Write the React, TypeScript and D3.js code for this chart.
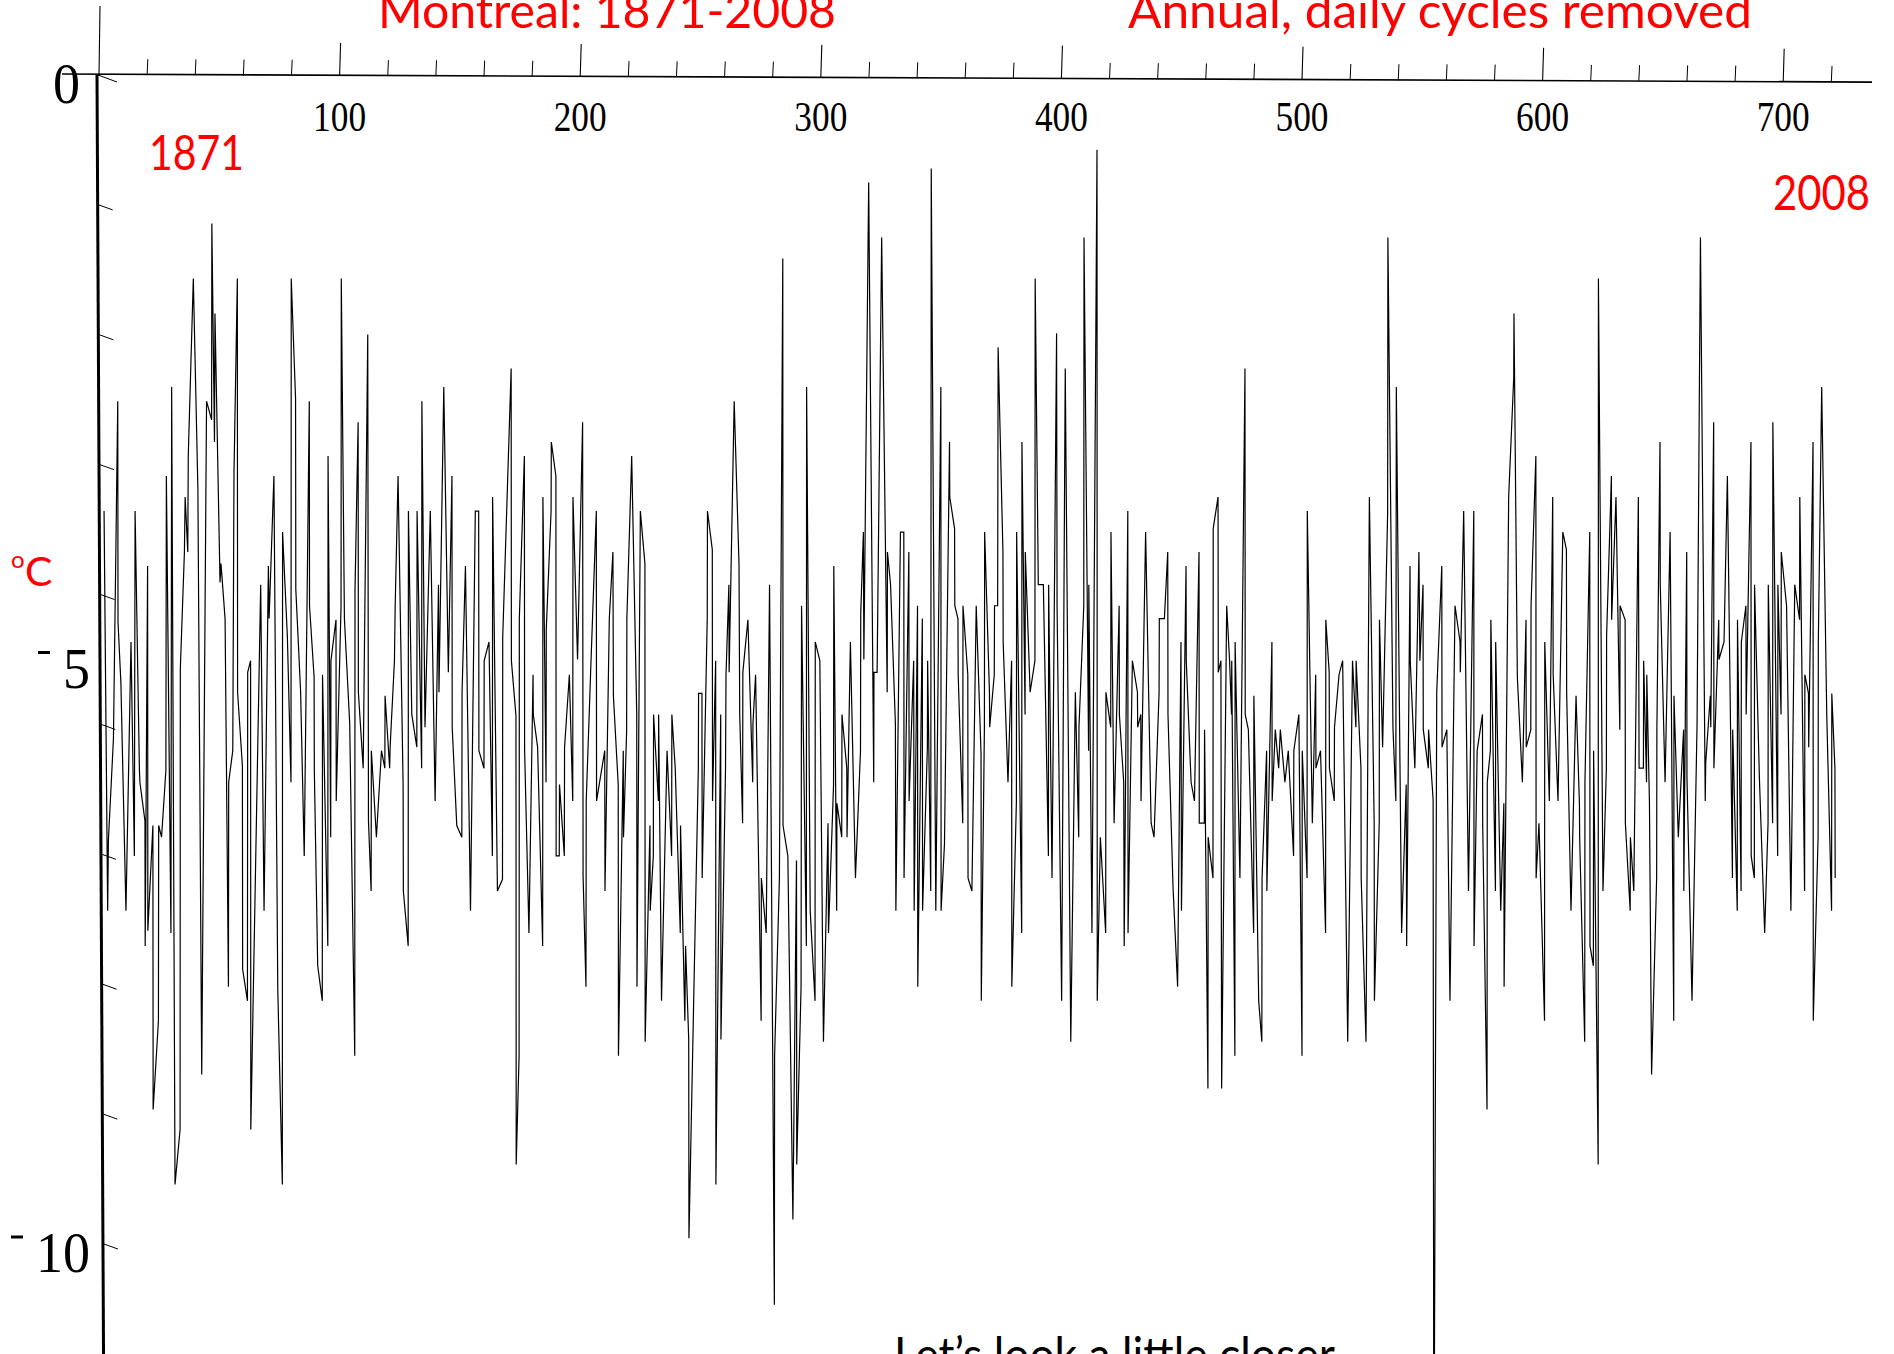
import React from 'react'
import * as d3 from 'd3'

const W = 1894
const H = 1354

// [sample index, temperature in °C]
const readings: [number, number][] = [
  [2.1,-3.73],[3.6,-7.15],[3.9,-6.55],[6.0,-5.68],[7.8,-2.79],[7.9,-4.68],[9.1,-5.2],[11.2,-7.15],[13.3,-4.85],[14.7,-6.68],
  [15.0,-3.73],[16.8,-5.95],[17.0,-6.05],[19.1,-6.38],[19.2,-7.45],[20.2,-4.2],[20.3,-7.32],[22.4,-6.42],[22.5,-8.85],[24.7,-8.09],
  [24.8,-6.42],[26.0,-6.52],[27.8,-5.95],[28.0,-3.43],[29.9,-7.34],[30.2,-2.67],[31.6,-9.49],[33.7,-9.02],[33.8,-5.08],[35.5,-4.08],
  [35.8,-3.61],[36.9,-4.08],[37.1,-3.26],[39.2,-1.74],[41.1,-3.54],[42.7,-8.55],[44.7,-2.79],[46.8,-2.95],[46.9,-1.27],[48.0,-3.14],
  [48.2,-2.04],[50.3,-4.34],[50.7,-4.18],[52.4,-4.65],[53.8,-7.8],[53.9,-6.05],[55.6,-5.78],[56.1,-3.41],[57.5,-1.74],[57.6,-5.28],
  [59.6,-5.91],[59.7,-7.65],[61.7,-7.92],[61.8,-5.11],[63.0,-5.01],[63.1,-9.02],[67.2,-4.36],[68.6,-7.15],[70.4,-4.2],[70.7,-4.65],
  [72.7,-3.43],[74.3,-7.82],[76.2,-9.49],[76.3,-3.91],[78.3,-4.81],[79.8,-6.05],[79.9,-1.74],[81.7,-2.77],[81.8,-4.4],[83.8,-5.28],
  [85.3,-6.68],[87.4,-2.79],[87.5,-4.54],[89.4,-5.15],[89.5,-5.95],[90.9,-7.62],
  [92.8,-7.92],[92.9,-5.13],[95.1,-7.45],[95.2,-3.26],[96.3,-6.52],[96.4,-5.01],[98.5,-4.66],[98.6,-6.21],[100.6,-4.54],[100.7,-1.74],
  [102.0,-4.65],[104.2,-5.55],[106.3,-8.39],[106.4,-4.41],[107.7,-2.97],[107.8,-5.28],[109.8,-5.93],[111.7,-2.22],[112.0,-6.38],[113.1,-6.98],
  [113.2,-5.78],[115.3,-6.52],[117.4,-5.78],[118.8,-5.93],[118.9,-5.31],[120.8,-5.93],[121.0,-5.75],[122.8,-5.01],[123.1,-4.54],[124.3,-3.43],
  [126.4,-6.08],[126.5,-6.98],[128.5,-7.45],[128.6,-3.73],[130.0,-5.47],[132.1,-5.75],[132.2,-3.73],[134.1,-5.93],[134.2,-2.79],[135.5,-5.58],
  [137.7,-3.73],[139.7,-6.21],[141.1,-4.36],[141.3,-5.28],[143.3,-2.67],[145.2,-5.11],[146.7,-3.43],[146.8,-5.58],[148.7,-6.42],[150.8,-6.52],
  [150.9,-5.28],[152.3,-4.2],[154.4,-7.15],[156.4,-3.73],[157.8,-3.73],[157.9,-5.78],[160.0,-5.93],[160.1,-5.01],[162.1,-4.85],[163.5,-6.68],
  [163.6,-3.61],[165.6,-6.98],[167.7,-6.88],[167.8,-4.81],[171.3,-2.51],[171.4,-5.01],[173.3,-5.48],[173.4,-9.32],[174.6,-8.39],[174.7,-4.65],
  [176.8,-3.26],[176.9,-5.78],[178.7,-7.34],[180.4,-5.13],[180.5,-5.47],[182.3,-5.75],
  [184.4,-7.45],[184.5,-3.61],[185.8,-6.05],[185.9,-4.74],[187.9,-3.73],[188.0,-3.14],[189.9,-3.43],[190.0,-6.68],[191.3,-6.68],[191.4,-6.07],
  [193.4,-6.68],[193.5,-5.75],[195.5,-5.13],[196.9,-6.21],[197.0,-3.61],[198.9,-5.0],[201.0,-2.97],[201.2,-6.85],[202.4,-7.8],[202.5,-6.21],
  [204.5,-5.01],[206.7,-3.73],[206.8,-6.21],[210.2,-5.78],[210.3,-6.98],[212.1,-4.65],[213.6,-4.08],[213.8,-5.31],[215.8,-6.07],[215.9,-8.39],
  [217.9,-5.78],[218.0,-6.52],[219.3,-5.61],[219.4,-4.65],[221.4,-3.26],[223.5,-5.47],[223.6,-7.8],[225.0,-3.73],[226.9,-4.18],[227.0,-8.27],
  [229.0,-6.42],[229.1,-7.15],[230.4,-6.68],[230.5,-5.47],[232.5,-6.21],[232.6,-5.47],[233.8,-7.92],[236.1,-5.78],[238.0,-6.68],[238.1,-5.47],
  [239.5,-5.93],[241.6,-7.34],[241.7,-6.42],[243.5,-8.09],[243.8,-7.45],[245.1,-8.25],[245.2,-9.95],[249.1,-5.93],[249.2,-5.29],[250.6,-5.29],
  [250.7,-6.87],[252.8,-4.65],[252.9,-3.73],[254.9,-4.06],[255.0,-6.21],[256.3,-5.01],[256.4,-9.49],[258.4,-5.47],[258.5,-8.25],[260.4,-5.93],
  [260.6,-5.13],[261.8,-4.36],[261.9,-5.11],[264.0,-2.79],[266.0,-4.18],[266.3,-5.47],[267.5,-6.4],[267.6,-5.11],[269.7,-4.66],[271.7,-6.05],
  [271.8,-5.55],[272.9,-5.13],
  [275.2,-8.09],[275.3,-6.87],[277.3,-7.34],[278.7,-4.36],[280.7,-10.52],[280.8,-8.39],[282.8,-6.87],[284.2,-1.57],[284.3,-6.42],[286.3,-6.68],
  [288.4,-9.79],[289.9,-6.72],[290.0,-9.32],[291.8,-7.8],[292.0,-4.54],[294.0,-7.45],[294.1,-2.67],[295.6,-7.15],[297.6,-7.92],[297.7,-4.85],
  [299.6,-5.01],[301.1,-8.27],[303.0,-6.4],[303.2,-7.34],[305.3,-6.07],[305.4,-4.2],[306.6,-7.15],[306.7,-6.23],[308.7,-6.52],[308.8,-5.47],
  [310.8,-5.93],[310.9,-6.52],[312.3,-4.85],[314.4,-6.87],[316.5,-5.78],[316.6,-4.61],[317.7,-3.91],[317.9,-5.0],[319.9,-0.92],[322.0,-6.05],
  [322.1,-5.11],[323.4,-5.11],[325.3,-1.39],[327.6,-5.28],[327.7,-4.08],[329.0,-4.36],[331.0,-5.55],[331.2,-7.15],[333.1,-3.91],[334.5,-3.91],
  [334.6,-6.87],[336.6,-4.08],[336.7,-6.21],[338.6,-5.01],[338.8,-7.15],[340.2,-4.54],[340.3,-7.8],[342.2,-4.65],[342.3,-7.15],[344.3,-5.75],
  [344.4,-5.01],[345.7,-6.98],[345.9,-0.8],[347.8,-7.15],[349.9,-2.67],[350.0,-7.15],[351.4,-6.58],[353.5,-3.14],[353.6,-3.61],[355.6,-3.88],
  [355.7,-4.54],[357.0,-4.65],[357.1,-5.13],[359.0,-6.4],[359.1,-4.54],[361.1,-5.13],[361.2,-6.87],[362.8,-6.98],[364.6,-4.54],
  [366.6,-5.81],[366.7,-7.92],[368.0,-5.58],[368.1,-3.91],[370.1,-5.28],[370.2,-5.58],[372.1,-5.13],[372.2,-4.54],[373.5,-4.54],[373.7,-2.33],
  [375.7,-4.08],[375.8,-4.85],[377.8,-6.05],[379.3,-5.01],[379.4,-7.8],[381.3,-6.21],[381.4,-3.91],[383.5,-7.34],[383.6,-3.14],[384.9,-5.47],
  [385.0,-4.08],[387.0,-5.28],[389.0,-5.01],[389.1,-1.74],[390.4,-4.36],[392.5,-4.36],[394.6,-6.68],[394.7,-4.36],[396.1,-6.87],[398.0,-2.21],
  [398.2,-4.54],[400.1,-7.92],[401.6,-2.51],[403.9,-8.27],[405.8,-5.28],[407.2,-6.52],[407.3,-5.58],[409.3,-4.54],[409.4,-1.39],[411.3,-5.78],
  [411.4,-4.36],[412.7,-7.34],[414.8,-0.64],[414.9,-7.92],[416.2,-6.52],[418.4,-7.34],[418.5,-5.28],[420.5,-5.58],[420.6,-3.91],[421.9,-6.4],
  [424.0,-4.54],[424.1,-5.47],[425.9,-6.05],[426.1,-7.45],[427.6,-3.73],[427.7,-7.34],[429.5,-5.01],[431.6,-5.28],[431.7,-5.58],[433.0,-5.47],
  [433.1,-6.21],[435.0,-3.91],[437.1,-6.21],[437.3,-6.4],[438.5,-6.52],[440.6,-5.28],[440.7,-4.65],[442.8,-4.65],[444.2,-4.08],[444.3,-5.47],
  [446.4,-6.95],[448.3,-7.8],[449.7,-4.85],[449.9,-7.15],[451.8,-4.2],[451.9,-5.01],[453.9,-6.05],[455.3,-6.21],[457.2,-4.08],[457.3,-6.4],
  [459.4,-6.4],[459.5,-5.6],[460.9,-8.67],[461.0,-6.52],[463.0,-6.87],[463.1,-3.88],[465.1,-3.61],[465.2,-5.11],[466.3,-5.01],[466.6,-8.67],
  [468.7,-4.54],[469.9,-5.01],[470.7,-5.47],[470.8,-5.01],[472.1,-8.39],[472.2,-4.85],[474.2,-6.87],[476.3,-2.51],[476.4,-5.47],[477.7,-5.6],
  [479.9,-7.34],[480.0,-5.31],[482.0,-7.92],[483.3,-8.27],[483.4,-6.87],[485.3,-5.78],[485.4,-6.98],[487.5,-4.85],[487.6,-6.21],[488.9,-5.6],
  [490.3,-5.93],[491.0,-5.6],[492.9,-6.05],[494.3,-5.78],[496.5,-6.68],[496.6,-5.78],[498.7,-5.47],[500.0,-8.39],[500.1,-5.78],[502.1,-6.87],
  [502.2,-3.73],[504.3,-6.4],[505.7,-5.13],[505.8,-5.93],[507.7,-5.78],[509.8,-7.34],[509.9,-4.66],[511.3,-5.11],[511.4,-5.93],[513.4,-6.21],
  [513.5,-5.58],[515.4,-5.13],[516.9,-5.01],[519.0,-8.27],[521.0,-5.01],[522.4,-5.58],[522.5,-5.01],[524.5,-5.93],[524.6,-6.87],[526.6,-8.27],
  [528.0,-3.61],[530.0,-6.4],[530.1,-7.92],[532.1,-6.4],[532.2,-4.66],[533.5,-5.75],[535.6,-3.74],[535.7,-1.39],[537.8,-5.58],[539.0,-6.21],
  [539.2,-2.67],[541.4,-7.34],[543.3,-6.07],[543.5,-7.45],[544.9,-4.2],[545.0,-5.01],[546.9,-5.93],[548.6,-4.08],
  [549.0,-5.01],[550.3,-4.36],[550.4,-5.6],[552.5,-5.93],[552.6,-5.6],[554.5,-6.2],[554.8,-12.5],[556.0,-5.28],[558.1,-4.2],[558.2,-5.75],
  [560.2,-5.6],[561.5,-7.92],[563.6,-4.54],[565.7,-4.85],[565.8,-5.11],[567.2,-3.73],[569.2,-6.98],[571.4,-3.73],[571.5,-7.45],[572.8,-5.78],
  [575.0,-5.47],[575.1,-6.4],[576.9,-8.85],[577.0,-6.05],[578.3,-5.78],[578.5,-4.66],[580.4,-6.98],[580.5,-4.85],[582.6,-7.15],[583.9,-6.23],
  [584.0,-7.8],[585.9,-3.61],[588.0,-2.59],[588.1,-2.04],[589.5,-5.15],[591.6,-6.05],[593.1,-4.66],[593.2,-5.75],[595.1,-5.6],[595.2,-4.54],
  [597.2,-3.26],[597.3,-6.87],[598.5,-6.4],[600.8,-8.09],[600.9,-4.85],[602.8,-6.21],[604.2,-3.61],[604.4,-5.13],[606.4,-6.21],[608.4,-3.91],
  [609.9,-4.06],[610.0,-5.28],[611.8,-7.15],[613.9,-5.31],[615.3,-6.23],[615.4,-6.52],[617.5,-8.27],[617.6,-6.05],[619.6,-3.91],[619.7,-7.45],
  [621.1,-7.62],[621.2,-5.78],[623.1,-9.32],[623.2,-1.74],[625.1,-6.98],[626.5,-5.93],[626.6,-4.8],[628.6,-3.43],[628.7,-4.66],[630.5,-3.61],
  [632.1,-5.6],[632.2,-4.54],[634.3,-4.66],[634.4,-6.4],[636.4,-7.15],[636.5,-6.52],[637.9,-6.98],[639.8,-3.61],[640.1,-5.93],
  [641.9,-5.93],[642.0,-5.01],[643.2,-6.05],[643.3,-5.13],[644.4,-6.21],[645.3,-8.55],[647.4,-6.87],[647.5,-5.6],[648.8,-3.14],[648.9,-4.36],
  [650.9,-6.05],[653.0,-3.91],[654.5,-8.09],[654.6,-5.31],[656.4,-6.52],[658.6,-5.6],[658.7,-6.98],[659.9,-4.08],[660.0,-6.01],[662.1,-7.92],
  [664.2,-5.55],[665.6,-1.39],[667.6,-6.21],[667.8,-5.88],[669.7,-5.31],[669.9,-5.58],[671.1,-2.97],[671.2,-5.93],[673.2,-4.66],[673.3,-5.0],
  [675.4,-4.85],[676.8,-3.43],[678.9,-6.87],[679.0,-5.6],[680.9,-7.15],[681.0,-4.66],[682.5,-6.98],[682.6,-4.85],[684.5,-4.54],[684.6,-5.47],
  [686.6,-3.14],[686.7,-6.68],[688.0,-6.87],[688.1,-4.36],[690.1,-6.01],[692.3,-7.34],[693.7,-6.4],[693.8,-4.36],[695.6,-6.4],[695.7,-2.97],
  [697.7,-6.68],[697.8,-4.36],[699.1,-5.47],[699.2,-4.08],[701.4,-4.54],[703.2,-7.15],[704.8,-4.36],[706.8,-4.66],[706.9,-3.61],[708.9,-6.98],
  [709.0,-5.13],[710.5,-5.29],[710.6,-5.75],[712.4,-3.14],[712.5,-8.09],[714.5,-6.52],[714.6,-4.85],[716.0,-2.67],[718.1,-5.47],[720.1,-7.15],
  [720.2,-5.29],[721.5,-5.93],[721.6,-6.87],
]

const majorTicks = [0, 100, 200, 300, 400, 500, 600, 700]
const minorTicks = d3.range(20, 740, 20).filter(t => t % 100 !== 0)
const xLabels = ['100', '200', '300', '400', '500', '600', '700']
// the scan's y ticks sit at ninths of the 0..-10 span
const yTicks = d3.range(0, 10).map(k => -k * 10 / 9)
const yLabels = [
  { v: 0, text: '0', minus: false, right: 80 },
  { v: -5, text: '5', minus: true, right: 90 },
  { v: -10, text: '10', minus: true, right: 90 },
]

const TILT = 0.004 // the scanned top axis drifts down to the right
const LEAN = 0.0051 // the scanned y axis drifts right going down

export default function App() {
  const x = d3.scaleLinear().domain([0, 720]).range([99, 99 + 720 * 2.406])
  const y = d3.scaleLinear().domain([0, -10]).range([75, 1244])
  const axisY = (px: number) => 75 + TILT * (px - 99)
  const axisX = (py: number) => 97 + LEAN * (py - 75)

  const path = d3.line<[number, number]>()
    .x(d => x(d[0]))
    .y(d => y(d[1]))(readings)

  const serif = '"Liberation Serif", "Times New Roman", serif'
  const sans = 'Lato, "Open Sans", sans-serif'

  return (
    <svg width={W} height={H} style={{ position: 'absolute', left: 0, top: 0, background: '#fff' }}>
      {/* top axis */}
      <line x1={62} y1={74} x2={1872} y2={axisY(1872)} stroke="#000" strokeWidth={1.6} />
      {majorTicks.map(t => {
        const px = x(t), py = axisY(px)
        return <line key={'M' + t} x1={px} y1={py} x2={px + 1} y2={t === 0 ? 6 : py - 33} stroke="#000" strokeWidth={1.1} />
      })}
      {minorTicks.map(t => {
        const px = x(t), py = axisY(px)
        return <line key={'m' + t} x1={px} y1={py} x2={px + 0.7} y2={py - 16} stroke="#000" strokeWidth={1} />
      })}
      {xLabels.map(l => (
        <text key={l} x={x(+l)} y={131} textAnchor="middle" fontFamily={serif} fontSize={42}
          textLength={53} lengthAdjust="spacingAndGlyphs">{l}</text>
      ))}

      {/* y axis */}
      <line x1={axisX(75)} y1={75} x2={axisX(H)} y2={H} stroke="#000" strokeWidth={3} />
      {yTicks.map((v, i) => {
        const py = y(v), px = axisX(py) + 1
        return i === 0
          ? <line key={i} x1={px} y1={py} x2={px + 19} y2={py + 7} stroke="#000" strokeWidth={1} />
          : <line key={i} x1={px} y1={py} x2={px + 14} y2={py + 5} stroke="#000" strokeWidth={1} />
      })}
      {yLabels.map(l => {
        const py = y(l.v)
        const w = l.text.length * 27
        return (
          <g key={l.text}>
            <text x={l.right - w} y={py + 28} fontFamily={serif} fontSize={56}
              textLength={w} lengthAdjust="spacingAndGlyphs">{l.text}</text>
            {l.minus && <line x1={l.right - w - 25} y1={py - 7} x2={l.right - w - 13} y2={py - 7} stroke="#000" strokeWidth={3} />}
          </g>
        )
      })}

      {/* series */}
      <path d={path ?? ''} fill="none" stroke="#000" strokeWidth={1.2} strokeLinejoin="miter" />

      {/* annotations */}
      <g fill="#ff0000" fontFamily={sans} fontSize={49}>
        <text x={378} y={28} textLength={458} lengthAdjust="spacingAndGlyphs">Montreal: 1871-2008</text>
        <text x={1128} y={28} textLength={624} lengthAdjust="spacingAndGlyphs">Annual, daily cycles removed</text>
        <text x={149} y={170} textLength={95} lengthAdjust="spacingAndGlyphs">1871</text>
        <text x={1773} y={210} textLength={97} lengthAdjust="spacingAndGlyphs">2008</text>
        <text x={11} y={568} fontSize={24}>o</text>
        <text x={25} y={586} fontSize={41}>C</text>
      </g>
      <text x={894} y={1372} fontFamily={sans} fontSize={49} textLength={441} lengthAdjust="spacingAndGlyphs">Let’s look a little closer</text>
    </svg>
  )
}
